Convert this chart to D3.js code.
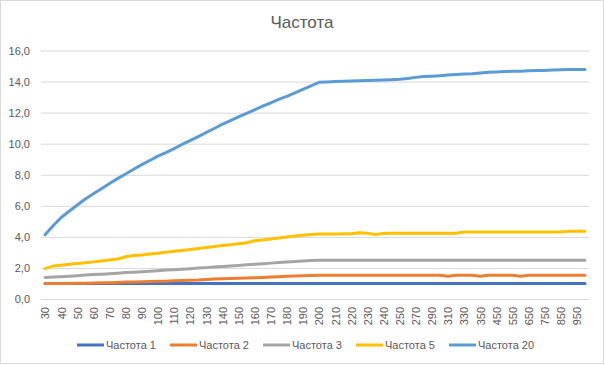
<!DOCTYPE html>
<html>
<head>
<meta charset="utf-8">
<script src="https://cdn.jsdelivr.net/npm/d3@7"></script>
<style>
  body { margin: 0; background: #fff; }
  svg text { font-family: "Liberation Sans", Arial, sans-serif; fill: #595959; }
</style>
</head>
<body>
<div id="chart"></div>
<script>
// data
const categories = [
  30, 35, 40, 45, 50, 55, 60, 65, 70, 75, 80, 85, 90, 95, 100, 105, 110, 115, 120, 125,
  130, 135, 140, 145, 150, 155, 160, 165, 170, 175, 180, 185, 190, 195, 200, 205, 210, 215,
  220, 225, 230, 235, 240, 245, 250, 260, 270, 280, 290, 300, 310, 320, 330, 340, 350,
  400, 450, 500, 550, 600, 650, 700, 750, 800, 850, 900, 950, 1000
];

const freq1 = [
  1, 1, 1, 1, 1, 1, 1, 1, 1, 1, 1, 1, 1, 1, 1, 1, 1, 1, 1, 1,
  1, 1, 1, 1, 1, 1, 1, 1, 1, 1, 1, 1, 1, 1, 1, 1, 1, 1, 1, 1,
  1, 1, 1, 1, 1, 1, 1, 1, 1, 1, 1, 1, 1, 1, 1, 1, 1, 1, 1, 1,
  1, 1, 1, 1, 1, 1, 1, 1
];

const freq2 = [
  1.0, 1.0, 1.0, 1.0, 1.01, 1.02, 1.03, 1.04, 1.05, 1.07,
  1.09, 1.1, 1.11, 1.12, 1.14, 1.15, 1.17, 1.19, 1.2, 1.22,
  1.26, 1.28, 1.3, 1.32, 1.34, 1.35, 1.37, 1.39, 1.41, 1.44,
  1.46, 1.48, 1.5, 1.52, 1.53, 1.53, 1.53, 1.53, 1.53, 1.53,
  1.53, 1.53, 1.53, 1.53, 1.53, 1.53, 1.53, 1.53, 1.53, 1.53,
  1.46, 1.53, 1.53, 1.53, 1.47, 1.53, 1.53, 1.53, 1.53, 1.46,
  1.53, 1.53, 1.53, 1.53, 1.53, 1.53, 1.53, 1.53
];

const freq3 = [
  1.39, 1.41, 1.44, 1.47, 1.5, 1.54, 1.57, 1.6, 1.63, 1.66,
  1.7, 1.73, 1.76, 1.79, 1.82, 1.86, 1.89, 1.92, 1.95, 1.99,
  2.02, 2.06, 2.09, 2.13, 2.16, 2.2, 2.24, 2.27, 2.31, 2.35,
  2.38, 2.42, 2.45, 2.48, 2.5, 2.5, 2.5, 2.5, 2.5, 2.5,
  2.5, 2.5, 2.5, 2.5, 2.5, 2.5, 2.5, 2.5, 2.5, 2.5,
  2.5, 2.5, 2.5, 2.5, 2.5, 2.5, 2.5, 2.5, 2.5, 2.5,
  2.5, 2.5, 2.5, 2.5, 2.5, 2.5, 2.5, 2.5
];

const freq5 = [
  1.96, 2.12, 2.18, 2.23, 2.28, 2.33, 2.39, 2.45, 2.51, 2.58,
  2.72, 2.8, 2.84, 2.9, 2.95, 3.01, 3.07, 3.13, 3.19, 3.25,
  3.32, 3.38, 3.44, 3.5, 3.56, 3.62, 3.75, 3.8, 3.86, 3.93,
  3.99, 4.05, 4.1, 4.15, 4.18, 4.19, 4.19, 4.2, 4.2, 4.27,
  4.24, 4.15, 4.22, 4.23, 4.23, 4.23, 4.23, 4.23, 4.23, 4.23,
  4.23, 4.23, 4.31, 4.31, 4.31, 4.31, 4.31, 4.31, 4.31, 4.31,
  4.31, 4.31, 4.31, 4.31, 4.31, 4.37, 4.37, 4.37
];

const freq20 = [
  4.13, 4.72, 5.25, 5.65, 6.05, 6.44, 6.77, 7.1, 7.43, 7.75,
  8.05, 8.35, 8.65, 8.92, 9.2, 9.43, 9.68, 9.95, 10.2, 10.45,
  10.72, 10.98, 11.25, 11.48, 11.72, 11.95, 12.18, 12.42, 12.62, 12.85,
  13.05, 13.27, 13.5, 13.72, 13.95, 13.97, 14.0, 14.02, 14.04, 14.05,
  14.07, 14.08, 14.1, 14.12, 14.15, 14.2, 14.27, 14.33, 14.35, 14.38,
  14.42, 14.46, 14.48, 14.5, 14.55, 14.6, 14.62, 14.64, 14.66, 14.67,
  14.7, 14.71, 14.72, 14.74, 14.76, 14.77, 14.78, 14.78
];

const seriesNames = ["Частота 1", "Частота 2", "Частота 3", "Частота 5", "Частота 20"];
const seriesValues = [freq1, freq2, freq3, freq5, freq20];
const seriesColors = ["#4472C4", "#ED7D31", "#A5A5A5", "#FFC000", "#5B9BD5"];

const yTicks = [0, 2, 4, 6, 8, 10, 12, 14, 16];
const chartTitle = "Частота";

// layout
const width = 605, height = 365;
const plot = { left: 41, right: 589, top: 50.5, bottom: 299 };

const svg = d3.select("#chart")
  .append("svg")
  .attr("width", width)
  .attr("height", height);

// chart border
svg.append("rect")
  .attr("x", 0.5).attr("y", 0.5)
  .attr("width", 603).attr("height", 363)
  .attr("fill", "#fff")
  .attr("stroke", "#D9D9D9");

const x = d3.scalePoint()
  .domain(categories)
  .range([plot.left, plot.right])
  .padding(0.5);

const y = d3.scaleLinear()
  .domain([0, 16])
  .range([plot.bottom, plot.top]);

const fmt = v => d3.format(".1f")(v).replace(".", ",");

// horizontal gridlines + y labels
const yAxis = d3.axisLeft(y)
  .tickValues(yTicks)
  .tickSize(-(plot.right - plot.left))
  .tickPadding(10)
  .tickFormat(fmt);

svg.append("g")
  .attr("transform", `translate(${plot.left},0)`)
  .call(yAxis)
  .call(g => g.select(".domain").remove())
  .call(g => g.selectAll(".tick line").attr("stroke", "#D9D9D9"))
  .call(g => g.selectAll(".tick text")
    .attr("font-size", 11)
    .attr("x", 30 - plot.left)
    .attr("fill", "#595959"));

// x axis: labels on every other category
const xAxis = d3.axisBottom(x)
  .tickSize(0)
  .tickFormat((d, i) => i % 2 === 0 ? d : "");

svg.append("g")
  .attr("transform", `translate(0,${plot.bottom})`)
  .call(xAxis)
  .call(g => g.select(".domain")
    .attr("stroke", "#D9D9D9")
    .attr("d", `M${plot.left},0.5H${plot.right}`))
  .call(g => g.selectAll(".tick text")
    .attr("font-size", 11)
    .attr("fill", "#595959")
    .attr("text-anchor", "end")
    .attr("transform", "rotate(-90)")
    .attr("x", -8)
    .attr("y", 0)
    .attr("dy", "0.35em"));

// lines
const line = d3.line()
  .x((d, i) => x(categories[i]))
  .y(d => y(d));

svg.append("g")
  .selectAll("path")
  .data(seriesValues)
  .join("path")
  .attr("d", line)
  .attr("fill", "none")
  .attr("stroke", (d, i) => seriesColors[i])
  .attr("stroke-width", 3)
  .attr("stroke-linejoin", "round")
  .attr("stroke-linecap", "round");

// title
svg.append("text")
  .attr("x", 302)
  .attr("y", 28)
  .attr("text-anchor", "middle")
  .attr("font-size", 17)
  .text(chartTitle);

// legend
const legend = svg.append("g")
  .selectAll("g")
  .data(seriesNames)
  .join("g")
  .attr("transform", (d, i) => `translate(${77 + i * 93},345)`);

legend.append("line")
  .attr("x1", 0).attr("x2", 27)
  .attr("y1", 0).attr("y2", 0)
  .attr("stroke", (d, i) => seriesColors[i])
  .attr("stroke-width", 3);

legend.append("text")
  .attr("x", 29)
  .attr("y", 4)
  .attr("font-size", 11)
  .text(d => d);
</script>
</body>
</html>
